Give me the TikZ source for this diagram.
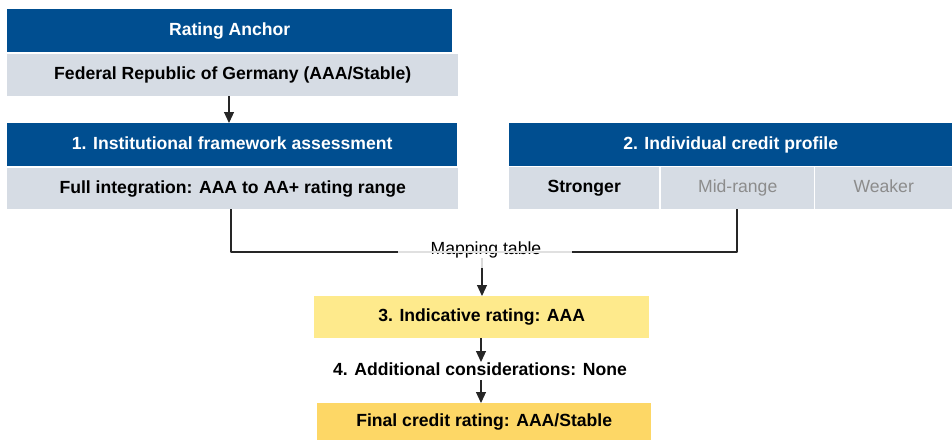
\documentclass[tikz,border=0pt]{standalone}
\usepackage{fontspec}
\setmainfont{Liberation Sans}
\usetikzlibrary{arrows.meta, calc, positioning}
\usepackage{xcolor}
\definecolor{anchorblue}{RGB}{0,78,144}
\definecolor{boxgrey}{RGB}{214,220,228}
\definecolor{softyellow}{RGB}{254,234,140}
\definecolor{deepyellow}{RGB}{253,215,102}
\definecolor{fadedtext}{RGB}{140,140,140}

\begin{document}
\begin{tikzpicture}[line cap=butt,line join=round,x=1pt,y=-1pt,
  >={Triangle[width=10pt,length=11pt]},
  every node/.style={font=\fontsize{17.6}{20}\selectfont, inner sep=0pt, text height=12.6pt, text depth=3.4pt},
  titlebox/.style={rectangle, fill=anchorblue, text=white, font=\fontsize{17.6}{20}\selectfont\bfseries, anchor=north west},
  greybox/.style={rectangle, fill=boxgrey, font=\fontsize{17.6}{20}\selectfont\bfseries, anchor=north west},
  yellowbox/.style={rectangle, fill=softyellow, font=\fontsize{17.6}{20}\selectfont\bfseries, anchor=north west},
  connector/.style={line width=1.2pt, draw=black!85}]
\useasboundingbox (0,0) rectangle (952,439);

% Rating anchor
\node [titlebox, minimum width=445, minimum height=43] (anchor) at (7,9) {Rating Anchor};
\node [greybox, minimum width=451, minimum height=42] (germany) at (7,54) {Federal Republic of Germany (AAA/Stable)};

% 1. Institutional framework
\node [titlebox, minimum width=450, minimum height=43] (inst) at (7,123) {1. Institutional framework assessment};
\node [greybox, minimum width=451, minimum height=41] (integ) at (7,168) {Full integration: AAA to AA+ rating range};

% 2. Individual credit profile
\node [titlebox, minimum width=443, minimum height=43] (profile) at (509,123) {2. Individual credit profile};
\node [greybox, minimum width=150, minimum height=42] (strong) at (509,167) {Stronger};
\node [greybox, minimum width=153, minimum height=42, text=fadedtext, font=\fontsize{17.6}{20}\selectfont] (mid) at (661,167) {Mid-range};
\node [greybox, minimum width=137, minimum height=42, text=fadedtext, font=\fontsize{17.6}{20}\selectfont] (weak) at (815,167) {Weaker};

% Mapping
\node (map) at (486,250) {Mapping table};
\coordinate (L) at (231,252);
\coordinate (R) at (737,252);
\coordinate (Lgap) at (398,252);
\coordinate (Rgap) at (572,252);
\coordinate (Mtop) at (482,258);
\coordinate (Mmid) at (482,268);

% 3. and 4.
\node [yellowbox, minimum width=335, minimum height=42] (indic) at (314,296) {3. Indicative rating: AAA};
\node [font=\fontsize{17.6}{20}\selectfont\bfseries] (extra) at (480,371) {4. Additional considerations: None};
\node [yellowbox, fill=deepyellow, minimum width=334, minimum height=37] (final) at (317,403) {Final credit rating: AAA/Stable};

% Connectors
\draw [connector, ->] (germany.south -| 229,0) -- (inst.north -| 229,0);
\draw [connector] (integ.south -| L) -- (L) -- (Lgap);
\draw [line width=1.2pt, black!12] (Lgap) -- (Rgap);
\draw [connector] (Rgap) -- (R) -- (mid.south -| R);
\draw [line width=1.4pt, black!15] (Mtop) -- (Mmid);
\draw [connector, ->] (Mmid) -- (indic.north -| Mmid);
\draw [connector, ->] (indic.south -| 481,0) -- (481,362);
\draw [connector, ->] (481,380) -- (final.north -| 481,0);
\end{tikzpicture}
\end{document}
